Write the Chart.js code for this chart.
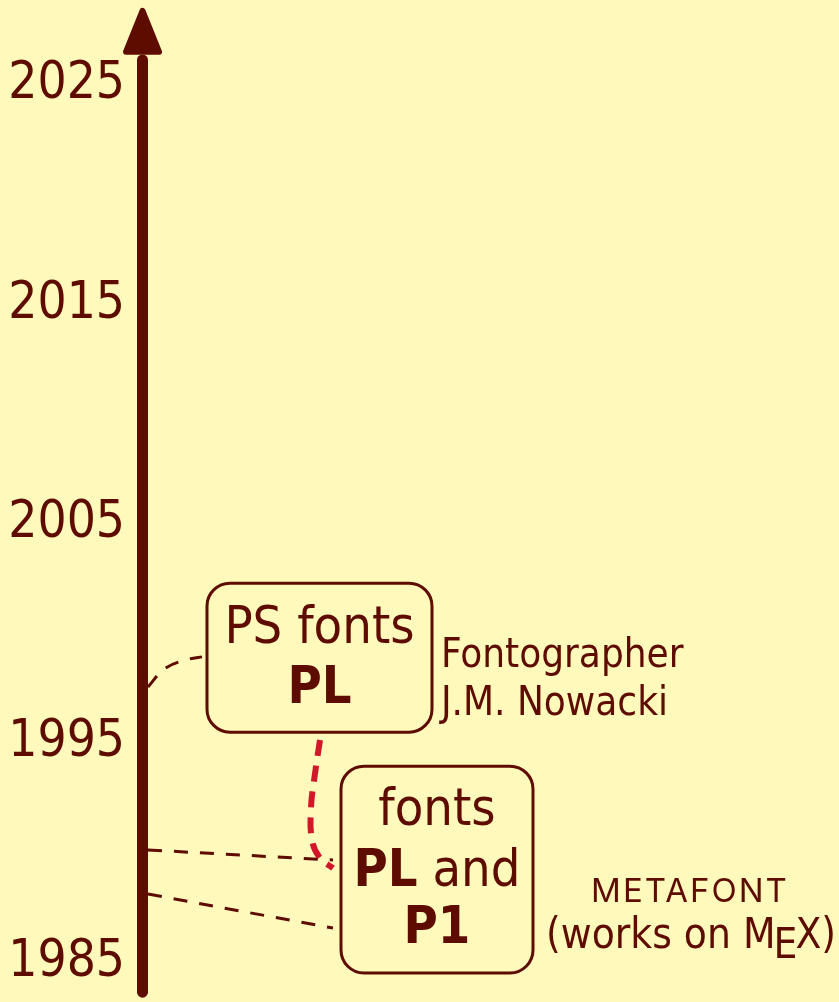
<!DOCTYPE html>
<html>
<head>
<meta charset="utf-8">
<script src="https://cdn.jsdelivr.net/npm/chart.js@4.4.0/dist/chart.umd.min.js"></script>
<style>
  html, body { margin: 0; padding: 0; background: #fff9bb; }
  #wrap { width: 839px; height: 1002px; }
</style>
</head>
<body>
<div id="wrap"><canvas id="timeline" width="839" height="1002"></canvas></div>
<script>
// timeline data (years)
var tickYears = [1985, 1995, 2005, 2015, 2025];
var axisYears = [1983.47, 2025.96];
var arrowYears = [2026.19, 2028.33];

// dashed links: year at the time axis -> year at the box
var linkAYears = [1989.95, 1989.49];
var linkBYears = [1987.94, 1986.39];
var linkCYears = [1997.38, 1998.16, 1998.66, 1998.75];
var redLinkYears = [1994.96, 1993.43, 1991.88, 1990.4, 1989.58, 1989.12];

// boxes: [top year, bottom year]
var box1Years = [2002.11, 1995.32];
var box2Years = [1993.77, 1984.34];

var box1Lines = ["PS fonts", "PL"];
var box1LineYears = [1999.38, 1996.65];
var box2Lines = ["fonts", "PL and", "P1"];
var box2LineYears = [1991.08, 1988.30, 1985.71];
var note1Lines = ["Fontographer", "J.M. Nowacki"];
var note1Years = [1998.29, 1996.1];
var note2Lines = ["METAFONT", "(works on M", "E", "X)"];
var note2Years = [1987.58, 1985.48];

// layout (x in pixels)
var axisX = 142.5;
var linkX = [148, 333];
var linkCX = [148, 163, 190, 202];
var redLinkX = [320, 315, 311, 312, 320, 333];
var box1X = [207, 432];
var box2X = [341, 533];

var dark = "#5f0c00";
var red = "#d3172a";
var FONT = "'DejaVu Sans Condensed', 'Liberation Sans Narrow', 'Open Sans', sans-serif";

function pts(xs, ys) {
    var out = [];
    for (var i = 0; i < ys.length; i++) out.push({ x: xs[i], y: ys[i] });
    return out;
}

function roundRect(ctx, x0, y0, x1, y1, r) {
    ctx.beginPath();
    ctx.moveTo(x0 + r, y0);
    ctx.lineTo(x1 - r, y0);
    ctx.arcTo(x1, y0, x1, y0 + r, r);
    ctx.lineTo(x1, y1 - r);
    ctx.arcTo(x1, y1, x1 - r, y1, r);
    ctx.lineTo(x0 + r, y1);
    ctx.arcTo(x0, y1, x0, y1 - r, r);
    ctx.lineTo(x0, y0 + r);
    ctx.arcTo(x0, y0, x0 + r, y0, r);
    ctx.closePath();
}

var decorations = {
    id: "decorations",
    afterDatasetsDraw: function(chart) {
        var ctx = chart.ctx;
        var xs = chart.scales.x, ys = chart.scales.y;
        var X = function(v) { return xs.getPixelForValue(v); };
        var Y = function(v) { return ys.getPixelForValue(v); };
        ctx.save();

        // arrow head
        ctx.fillStyle = dark;
        ctx.strokeStyle = dark;
        ctx.lineWidth = 6;
        ctx.lineJoin = "round";
        ctx.beginPath();
        ctx.moveTo(X(axisX), Y(arrowYears[1]) + 3);
        ctx.lineTo(X(axisX) + 16.5, Y(arrowYears[0]) - 3);
        ctx.lineTo(X(axisX) - 16.5, Y(arrowYears[0]) - 3);
        ctx.closePath();
        ctx.fill();
        ctx.stroke();

        // boxes
        ctx.lineWidth = 3;
        roundRect(ctx, X(box1X[0]), Y(box1Years[0]), X(box1X[1]), Y(box1Years[1]), 23);
        ctx.stroke();
        roundRect(ctx, X(box2X[0]), Y(box2Years[0]), X(box2X[1]), Y(box2Years[1]), 23);
        ctx.stroke();

        ctx.textBaseline = "alphabetic";
        ctx.fillStyle = dark;

        // box texts
        var fs = 52;
        ctx.textAlign = "center";
        var c1 = (X(box1X[0]) + X(box1X[1])) / 2;
        ctx.font = fs + "px " + FONT;
        ctx.fillText(box1Lines[0], c1, Y(box1LineYears[0]));
        ctx.font = "bold " + fs + "px " + FONT;
        ctx.fillText(box1Lines[1], c1, Y(box1LineYears[1]));

        var c2 = (X(box2X[0]) + X(box2X[1])) / 2;
        ctx.font = fs + "px " + FONT;
        ctx.fillText(box2Lines[0], c2, Y(box2LineYears[0]));
        // "PL" bold + " and"
        ctx.font = "bold " + fs + "px " + FONT;
        var wPL = ctx.measureText("PL").width;
        ctx.font = fs + "px " + FONT;
        var wAnd = ctx.measureText(" and").width;
        var sx = c2 - (wPL + wAnd) / 2;
        ctx.textAlign = "left";
        ctx.font = "bold " + fs + "px " + FONT;
        ctx.fillText("PL", sx, Y(box2LineYears[1]));
        ctx.font = fs + "px " + FONT;
        ctx.fillText(" and", sx + wPL, Y(box2LineYears[1]));
        ctx.textAlign = "center";
        ctx.font = "bold " + fs + "px " + FONT;
        ctx.fillText(box2Lines[2], c2, Y(box2LineYears[2]));

        // notes
        ctx.textAlign = "left";
        ctx.font = "40px " + FONT;
        ctx.fillText(note1Lines[0], X(441), Y(note1Years[0]));
        ctx.fillText(note1Lines[1], X(441), Y(note1Years[1]));

        ctx.textAlign = "center";
        ctx.font = "33px Inter, Lato, sans-serif";
        ctx.letterSpacing = "2px";
        ctx.fillText(note2Lines[0], X(690), Y(note2Years[0]));
        ctx.letterSpacing = "0px";

        ctx.font = "42px " + FONT;
        var w1 = ctx.measureText(note2Lines[1]).width;
        var w2 = ctx.measureText(note2Lines[2]).width;
        var w3 = ctx.measureText(note2Lines[3]).width;
        var ex = X(691) - (w1 + w2 + w3 - 4) / 2;
        var by = Y(note2Years[1]);
        ctx.textAlign = "left";
        ctx.fillText(note2Lines[1], ex, by);
        ctx.fillText(note2Lines[2], ex + w1 - 2, by + 10);
        ctx.fillText(note2Lines[3], ex + w1 + w2 - 4, by);

        ctx.restore();
    }
};

var dashed = { borderColor: dark, borderWidth: 3, borderDash: [14, 12], pointRadius: 0, fill: false };

new Chart(document.getElementById("timeline"), {
    type: "line",
    data: {
        datasets: [
            { label: "axis", data: pts([axisX, axisX], axisYears), borderColor: dark, borderWidth: 11,
              borderCapStyle: "round", pointRadius: 0 },
            Object.assign({ label: "link A", data: pts(linkX, linkAYears) }, dashed),
            Object.assign({ label: "link B", data: pts(linkX, linkBYears) }, dashed),
            Object.assign({ label: "link C", data: pts(linkCX, linkCYears), cubicInterpolationMode: "monotone" }, dashed),
            { label: "red link", data: pts(redLinkX, redLinkYears), borderColor: red, borderWidth: 6,
              borderDash: [16, 10], pointRadius: 0, tension: 0.4 }
        ]
    },
    options: {
        responsive: false,
        animation: false,
        layout: { padding: 0 },
        plugins: { legend: { display: false }, tooltip: { enabled: false } },
        scales: {
            x: { type: "linear", min: 137, max: 839, display: false },
            y: {
                type: "linear",
                min: 1983.02,
                max: 2028.69,
                afterFit: function(scale) {
                    scale.width = 137;
                    scale.paddingTop = 0;
                    scale.paddingBottom = 0;
                },
                afterBuildTicks: function(scale) {
                    scale.ticks = tickYears.map(function(v) { return { value: v }; });
                },
                grid: { display: false, drawTicks: false },
                border: { display: false },
                ticks: {
                    padding: 12,
                    labelOffset: 4,
                    color: dark,
                    font: { family: FONT, size: 51 },
                    callback: function(v) { return String(v); }
                }
            }
        }
    },
    plugins: [decorations]
});
</script>
</body>
</html>
